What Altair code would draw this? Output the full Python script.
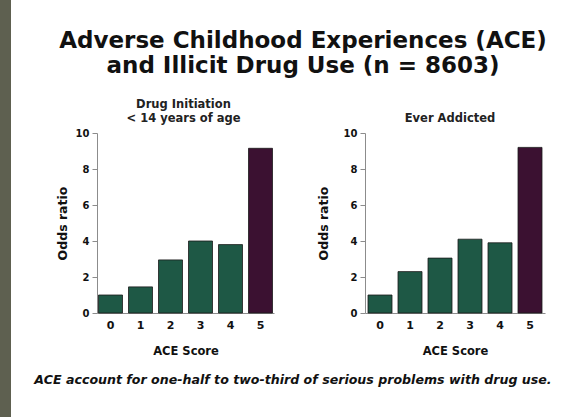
import altair as alt
import pandas as pd

# ---- data ----
ace_scores = ["0", "1", "2", "3", "4", "5"]
drug_initiation_or = [1.0, 1.45, 2.95, 4.0, 3.8, 9.15]
ever_addicted_or = [1.0, 2.3, 3.05, 4.1, 3.9, 9.2]
y_ticks = [0, 2, 4, 6, 8, 10]
title_lines = ["Adverse Childhood Experiences (ACE)", "and Illicit Drug Use (n = 8603)"]
left_title = ["Drug Initiation", "< 14 years of age"]
right_title = "Ever Addicted"
caption_text = "ACE  account for one-half to two-third of serious problems with drug use."
x_title = "ACE Score"
y_title = "Odds ratio"

GREEN = "#1e5845"
PURPLE = "#3b1131"
FONT = "DejaVu Sans"


def bars(values, pad_outer, ytitle_pad):
    df = pd.DataFrame({"score": ace_scores, "odds": values})
    return alt.Chart(df).mark_bar(stroke="#1a1a1a", strokeWidth=0.8).encode(
        x=alt.X("score:N", sort=ace_scores,
                scale=alt.Scale(paddingInner=0.2, paddingOuter=pad_outer),
                axis=alt.Axis(title=x_title, labelAngle=0, ticks=False,
                              labelFontSize=11, labelPadding=6,
                              titleFontSize=11.5, titlePadding=15)),
        y=alt.Y("odds:Q", scale=alt.Scale(domain=[0, 10], nice=False),
                axis=alt.Axis(title=y_title, values=y_ticks, tickSize=5,
                              labelFontSize=10, labelPadding=3,
                              titleFontSize=12.5, titlePadding=ytitle_pad)),
        color=alt.condition(alt.datum.score == "5", alt.value(PURPLE), alt.value(GREEN)),
    )


def sub_title(text, dx):
    return alt.TitleParams(text=text, font=FONT, fontSize=11.5, fontWeight="bold",
                           color="#222", anchor="middle", offset=4, dx=dx)


# decoration panel (left strip, main title, caption), origin aligned with plot tops
strip = alt.Chart(pd.DataFrame({"a": [0]})).mark_rect(color="#5e6050").encode(
    x=alt.value(-5), x2=alt.value(6), y=alt.value(-133), y2=alt.value(284)
)

main_title = alt.Chart(pd.DataFrame({"t": ["\n".join(title_lines)]})).mark_text(
    font=FONT, fontSize=23, fontWeight="bold", align="center", baseline="top",
    lineBreak="\n", lineHeight=25, color="#111"
).encode(text="t:N", x=alt.value(298), y=alt.value(-103))

caption = alt.Chart(pd.DataFrame({"t": [caption_text]})).mark_text(
    font=FONT, fontSize=12.6, fontWeight="bold", fontStyle="italic",
    align="center", baseline="alphabetic", color="#111"
).encode(text="t:N", x=alt.value(288), y=alt.value(251))

deco = alt.layer(strip, main_title, caption).properties(width=1, height=180)

left = bars(drug_initiation_or, 0.05, 6).properties(
    width=177, height=180, title=sub_title(left_title, -2)
)
right = bars(ever_addicted_or, 0.1, 13).properties(
    width=180, height=180, title=sub_title(right_title, -5)
)

chart = alt.hconcat(deco, left, right, spacing=91, bounds="flush").properties(
    padding=0, background="white"
).configure_view(strokeWidth=0).configure_axis(
    domainColor="#8c8c8c", tickColor="#8c8c8c", grid=False,
    labelFont=FONT, labelFontWeight="bold", labelColor="#111",
    titleFont=FONT, titleFontWeight="bold", titleColor="#111",
)

chart.save("out.html", embed_options={"renderer": "svg", "actions": False})
